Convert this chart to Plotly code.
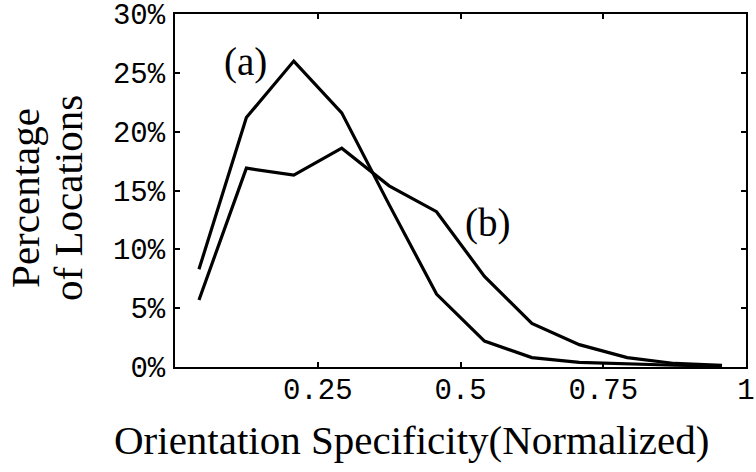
import plotly.graph_objects as go

# Data
x_vals = [0.042, 0.125, 0.208, 0.292, 0.375, 0.458, 0.542, 0.625, 0.708, 0.792, 0.875, 0.958]
series_a = [8.3, 21.2, 26.0, 21.6, 13.8, 6.2, 2.2, 0.8, 0.4, 0.25, 0.15, 0.1]
series_b = [5.7, 16.9, 16.3, 18.6, 15.4, 13.2, 7.7, 3.7, 1.9, 0.8, 0.3, 0.15]
x_tickvals = [0.25, 0.5, 0.75, 1]
x_ticktext = ["0.25", "0.5", "0.75", "1"]
y_tickvals = [0, 5, 10, 15, 20, 25, 30]
y_ticktext = ["0%", "5%", "10%", "15%", "20%", "25%", "30%"]

serif = "Liberation Serif, Times New Roman, serif"
mono = "Liberation Mono, Courier New, monospace"

fig = go.Figure()
fig.add_trace(go.Scatter(x=x_vals, y=series_a, mode="lines",
                         line=dict(color="black", width=3.2), name="(a)"))
fig.add_trace(go.Scatter(x=x_vals, y=series_b, mode="lines",
                         line=dict(color="black", width=3.2), name="(b)"))

fig.update_layout(
    width=756, height=472,
    margin=dict(l=175, r=10, t=14, b=105),
    paper_bgcolor="white", plot_bgcolor="white",
    showlegend=False,
    xaxis=dict(range=[0, 1], tickvals=x_tickvals, ticktext=x_ticktext,
               automargin=False, ticklabeloverflow="allow",
               showgrid=False, zeroline=False, showline=True, linecolor="black",
               linewidth=2, mirror="ticks", ticks="inside", ticklen=5,
               tickcolor="black", tickwidth=1.5, ticklabelstandoff=-5,
               tickfont=dict(family=mono, size=29, color="black")),
    yaxis=dict(range=[0, 30], tickvals=y_tickvals, ticktext=y_ticktext,
               automargin=False, ticklabeloverflow="allow",
               showgrid=False, zeroline=False, showline=True, linecolor="black",
               linewidth=2, mirror="ticks", ticks="inside", ticklen=5,
               tickcolor="black", tickwidth=1.5, ticklabelstandoff=2,
               tickfont=dict(family=mono, size=29, color="black")),
    annotations=[
        dict(text="(a)", x=0.124, y=25.9, xref="x", yref="y", showarrow=False,
             xanchor="center", yanchor="middle",
             font=dict(family=serif, size=39, color="black")),
        dict(text="(b)", x=0.548, y=12.2, xref="x", yref="y", showarrow=False,
             xanchor="center", yanchor="middle",
             font=dict(family=serif, size=39, color="black")),
        dict(text="Orientation Specificity(Normalized)", x=0.415, y=-0.207,
             xref="paper", yref="paper", showarrow=False,
             xanchor="center", yanchor="middle",
             font=dict(family=serif, size=41, color="black")),
        dict(text="Percentage", x=-0.2627, y=0.479, xref="paper", yref="paper",
             showarrow=False, textangle=-90, xanchor="center", yanchor="middle",
             font=dict(family=serif, size=41, color="black")),
        dict(text="of Locations", x=-0.1874, y=0.479, xref="paper", yref="paper",
             showarrow=False, textangle=-90, xanchor="center", yanchor="middle",
             font=dict(family=serif, size=41, color="black")),
    ],
)

fig.write_html("out.html", config={"displayModeBar": False},
               post_script="document.body.style.margin='0';")
